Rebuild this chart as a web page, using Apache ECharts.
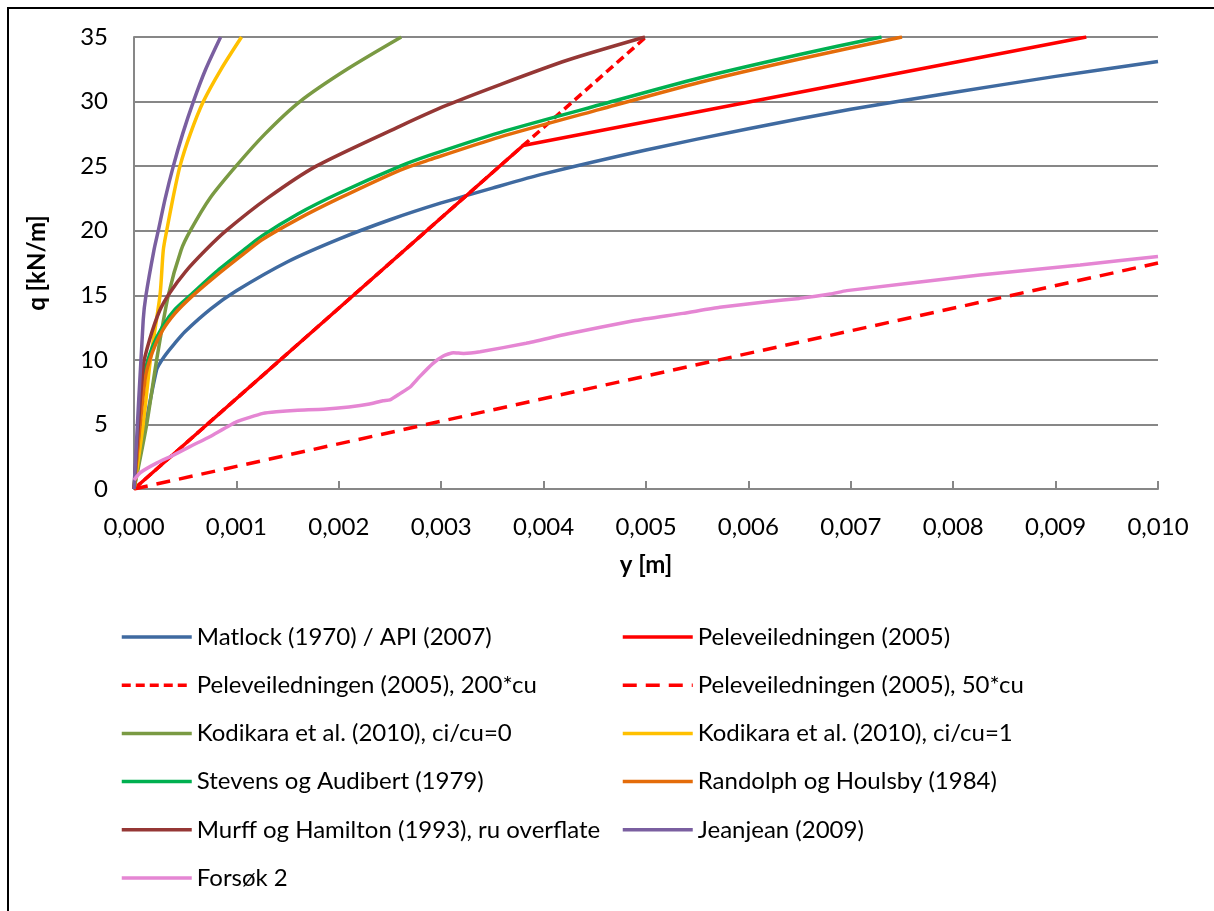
<!DOCTYPE html>
<html lang="no">
<head>
    <meta charset="UTF-8">
    <title>p-y kurver</title>
    <script src="https://cdn.jsdelivr.net/npm/echarts@6/dist/echarts.min.js"></script>
    <style>
        html, body { margin: 0; padding: 0; background: #fff; }
        #chart { width: 1214px; height: 911px; }
    </style>
</head>
<body>
<div id="chart"></div>
<script type="text/javascript">
    // verdier lest av figuren: [y (m), q (kN/m)]
    var matlock = [[0,0],[0.00022,9.2],[0.0003,10.3],[0.0004,11.3],[0.0005,12.2],[0.00075,13.95],[0.001,15.35],[0.0015,17.6],[0.002,19.35],[0.0025,20.85],[0.003,22.15],[0.0035,23.3],[0.004,24.4],[0.005,26.25],[0.006,27.9],[0.007,29.4],[0.008,30.7],[0.009,31.95],[0.010,33.1]];
    var pele = [[0,0],[0.0038,26.6],[0.0093,35]];
    var pele200 = [[0,0],[0.005,35]];
    var pele50 = [[0,0],[0.010,17.5]];
    var kodikara0 = [[0,0],[0.000124,5],[0.000221,10],[0.000335,15],[0.00046,18.5],[0.00055,20],[0.00074,22.5],[0.000996,25],[0.00128,27.5],[0.00162,30],[0.00208,32.5],[0.00261,35]];
    var kodikara1 = [[0,0],[0.00009,5],[0.00016,10],[0.000254,15],[0.000286,18.5],[0.000319,20],[0.00038,22.5],[0.000449,25],[0.00055,27.5],[0.000677,30],[0.00085,32.5],[0.00105,35]];
    var stevens = [[0,0],[0.000107,9],[0.00018,11],[0.00028,12.6],[0.0004,13.9],[0.00055,15],[0.0008,16.8],[0.00107,18.5],[0.00125,19.6],[0.0016,21.3],[0.002,22.9],[0.0026,25.0],[0.00289,25.85],[0.00357,27.6],[0.00455,29.75],[0.00553,31.85],[0.0065,33.65],[0.0073,35]];
    var randolph = [[0,0],[0.00011,8.6],[0.00018,10.6],[0.00028,12.3],[0.0004,13.6],[0.00055,14.8],[0.0008,16.5],[0.00107,18.2],[0.00125,19.3],[0.0016,20.9],[0.002,22.5],[0.0026,24.7],[0.00289,25.5],[0.00357,27.25],[0.00455,29.4],[0.00553,31.5],[0.0065,33.3],[0.0075,35]];
    var murff = [[0,0],[0.00009,9.5],[0.00015,11.5],[0.00025,13.8],[0.00035,15.2],[0.0005,16.8],[0.0007,18.5],[0.0009,20],[0.0013,22.5],[0.00178,25],[0.0026,28.1],[0.00305,29.7],[0.00357,31.3],[0.00423,33.2],[0.00499,35]];
    var jeanjean = [[0,0],[0.00009,13.1],[0.000117,15],[0.000195,18.5],[0.000237,20],[0.000305,22.5],[0.000384,25],[0.000475,27.5],[0.00058,30],[0.0007,32.5],[0.000846,35]];
    var forsok2 = [[0,0.7],[0.00006,1.26],[0.00022,2.0],[0.00038,2.6],[0.00055,3.3],[0.00074,4.05],[0.001,5.2],[0.00126,5.86],[0.00139,5.99],[0.0016,6.1],[0.00185,6.17],[0.0021,6.35],[0.0023,6.58],[0.00243,6.84],[0.0025,6.9],[0.0026,7.4],[0.0027,7.92],[0.00279,8.7],[0.00292,9.73],[0.00302,10.3],[0.00312,10.56],[0.00322,10.5],[0.00338,10.63],[0.00383,11.28],[0.00423,12.0],[0.00488,13.03],[0.00536,13.6],[0.00572,14.07],[0.00618,14.5],[0.0065,14.76],[0.0068,15.1],[0.00696,15.36],[0.00826,16.57],[0.00924,17.35],[0.010,18.0]];

    var legendLeft = ['Matlock (1970) / API (2007)', 'Peleveiledningen (2005), 200*cu', 'Kodikara et al. (2010), ci/cu=0', 'Stevens og Audibert (1979)', 'Murff og Hamilton (1993), ru overflate', 'Forsøk 2'];
    var legendRight = ['Peleveiledningen (2005)', 'Peleveiledningen (2005), 50*cu', 'Kodikara et al. (2010), ci/cu=1', 'Randolph og Houlsby (1984)', 'Jeanjean (2009)'];

    var font = 'Lato, "Open Sans", sans-serif';
    var gridColor = '#878787';

    function line(name, data, color, dash, smooth) {
        return {
            name: name,
            type: 'line',
            data: data,
            showSymbol: false,
            symbol: 'none',
            smooth: smooth || false,
            lineStyle: { color: color, width: 3.5, type: dash || 'solid' },
            itemStyle: { color: color }
        };
    }

    function legendCol(left, names) {
        return {
            orient: 'vertical',
            left: left,
            top: 625,
            padding: 0,
            itemWidth: 70,
            itemHeight: 24,
            itemGap: 24.2,
            data: names,
            // skjul sirkelen midt i linjeikonet
            itemStyle: { opacity: 0, borderWidth: 0 },
            lineStyle: { width: 3.5 },
            textStyle: { fontFamily: font, fontSize: 24, color: '#000' }
        };
    }

    var myChart = echarts.init(document.getElementById('chart'));
    myChart.setOption({
        animation: false,
        backgroundColor: '#fff',
        textStyle: { fontFamily: font },
        graphic: [{
            type: 'rect',
            shape: { x: 8, y: 8, width: 1400, height: 1000 },
            style: { fill: 'none', stroke: '#000', lineWidth: 2 },
            silent: true
        }],
        grid: { left: 134, right: 56, top: 37, bottom: 422 },
        legend: [legendCol(120, legendLeft), legendCol(621, legendRight)],
        xAxis: {
            type: 'value',
            min: 0,
            max: 0.01,
            interval: 0.001,
            name: 'y [m]',
            nameLocation: 'middle',
            nameGap: 64,
            nameTextStyle: { fontFamily: font, fontSize: 24, fontWeight: 'bold', color: '#000' },
            axisLine: { lineStyle: { color: gridColor, width: 2 } },
            axisTick: { show: true, inside: true, length: 8, lineStyle: { color: gridColor, width: 2 } },
            splitLine: { show: false },
            axisLabel: {
                fontFamily: font, fontSize: 24, color: '#000', margin: 26,
                formatter: function (v) { return v.toFixed(3).replace('.', ','); }
            }
        },
        yAxis: {
            type: 'value',
            min: 0,
            max: 35,
            interval: 5,
            name: 'q [kN/m]',
            nameLocation: 'middle',
            nameGap: 85,
            nameTextStyle: { fontFamily: font, fontSize: 24, fontWeight: 'bold', color: '#000' },
            axisLine: { show: true, lineStyle: { color: gridColor, width: 2 } },
            axisTick: { show: false },
            splitLine: { lineStyle: { color: gridColor, width: 2 } },
            axisLabel: { fontFamily: font, fontSize: 24, color: '#000', margin: 26 }
        },
        series: [
            line('Matlock (1970) / API (2007)', matlock, '#3F6AA0', null, 0.25),
            line('Peleveiledningen (2005)', pele, '#FF0000'),
            line('Peleveiledningen (2005), 200*cu', pele200, '#FF0000', [9, 5]),
            line('Peleveiledningen (2005), 50*cu', pele50, '#FF0000', [14, 9]),
            line('Kodikara et al. (2010), ci/cu=0', kodikara0, '#7A9A43', null, 0.25),
            line('Kodikara et al. (2010), ci/cu=1', kodikara1, '#FFC000', null, 0.25),
            line('Stevens og Audibert (1979)', stevens, '#00B050', null, 0.25),
            line('Randolph og Houlsby (1984)', randolph, '#E46C0A', null, 0.25),
            line('Murff og Hamilton (1993), ru overflate', murff, '#953735', null, 0.25),
            line('Jeanjean (2009)', jeanjean, '#7A5FA0', null, 0.25),
            line('Forsøk 2', forsok2, '#E586D3', null, 0.15)
        ]
    });
</script>
</body>
</html>
